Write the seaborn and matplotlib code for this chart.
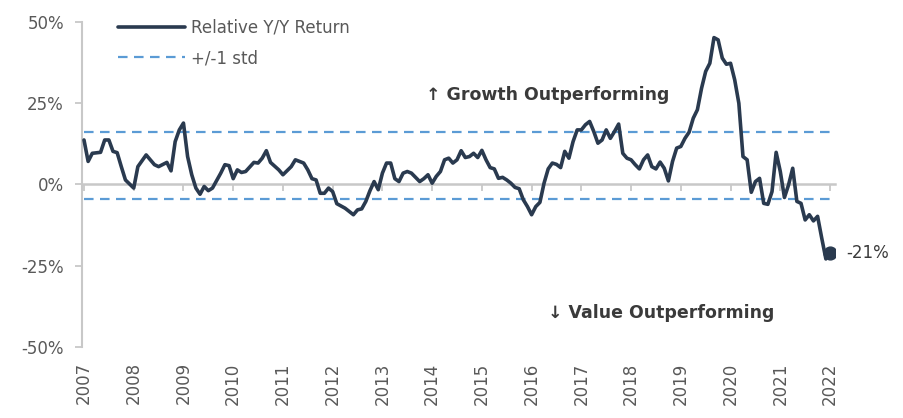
import matplotlib
matplotlib.use("Agg")
import matplotlib.pyplot as plt
import numpy as np
import pandas as pd
import seaborn as sns

# ---------------- data ----------------
dates = [
    "2007-01", "2007-02", "2007-03", "2007-05", "2007-06", "2007-07", "2007-08", "2007-09", "2007-10", "2007-11",
    "2008-01", "2008-02", "2008-04", "2008-06", "2008-07", "2008-09", "2008-10", "2008-11", "2008-12",
    "2009-01", "2009-02", "2009-03", "2009-04", "2009-05", "2009-06", "2009-07", "2009-08", "2009-10", "2009-11", "2009-12",
    "2010-01", "2010-02", "2010-03", "2010-04", "2010-06", "2010-07", "2010-08", "2010-09", "2010-10", "2010-12",
    "2011-01", "2011-03", "2011-04", "2011-06", "2011-07", "2011-08", "2011-09", "2011-10", "2011-11", "2011-12",
    "2012-01", "2012-02", "2012-04", "2012-05", "2012-06", "2012-07", "2012-08", "2012-09", "2012-10", "2012-11", "2012-12",
    "2013-01", "2013-02", "2013-03", "2013-04", "2013-05", "2013-06", "2013-07", "2013-08", "2013-10", "2013-11", "2013-12",
    "2014-01", "2014-02", "2014-03", "2014-04", "2014-05", "2014-06", "2014-07", "2014-08", "2014-09", "2014-10", "2014-11", "2014-12",
    "2015-01", "2015-02", "2015-03", "2015-04", "2015-05", "2015-06", "2015-07", "2015-08", "2015-09", "2015-10", "2015-11", "2015-12",
    "2016-01", "2016-02", "2016-03", "2016-04", "2016-05", "2016-06", "2016-07", "2016-08", "2016-09", "2016-10", "2016-11", "2016-12",
    "2017-01", "2017-02", "2017-03", "2017-04", "2017-05", "2017-06", "2017-07", "2017-08", "2017-09", "2017-10", "2017-11", "2017-12",
    "2018-01", "2018-02", "2018-03", "2018-04", "2018-05", "2018-06", "2018-07", "2018-08", "2018-09", "2018-10", "2018-11", "2018-12",
    "2019-01", "2019-02", "2019-03", "2019-04", "2019-05", "2019-06", "2019-07", "2019-08", "2019-09", "2019-10", "2019-11", "2019-12",
    "2020-01", "2020-02", "2020-03", "2020-04", "2020-05", "2020-06", "2020-07", "2020-08", "2020-09", "2020-10", "2020-11", "2020-12",
    "2021-01", "2021-02", "2021-03", "2021-04", "2021-05", "2021-06", "2021-07", "2021-08", "2021-09", "2021-10", "2021-11", "2021-12",
    "2022-01",
]
relative_return = [
    13.7, 7.1, 9.6, 9.9, 13.7, 13.7, 10.2, 9.8, 5.5, 1.4,
    -1.1, 5.5, 9.1, 6.1, 5.5, 6.8, 4.2, 13.2, 16.8,
    18.9, 8.6, 3.0, -1.1, -3.0, -0.6, -1.9, -1.1, 3.5, 6.1, 5.8,
    1.8, 4.5, 3.7, 4.0, 6.8, 6.6, 8.1, 10.4, 6.8, 4.5,
    3.0, 5.5, 7.6, 6.6, 4.5, 1.8, 1.4, -2.7, -2.7, -1.1,
    -2.2, -5.9, -7.3, -8.3, -9.3, -7.8, -7.5, -5.2, -1.9, 0.9, -1.6,
    3.5, 6.6, 6.6, 1.8, 0.9, 3.5, 4.0, 3.5, 0.9, 1.8, 3.0,
    0.4, 2.5, 4.0, 7.6, 8.1, 6.6, 7.6, 10.4, 8.3, 8.6, 9.6, 8.3,
    10.5, 7.6, 5.2, 4.8, 1.9, 2.2, 1.4, 0.4, -0.9, -1.3, -4.7, -6.8,
    -9.3, -6.8, -5.5, 0.4, 4.8, 6.6, 6.2, 5.2, 10.2, 8.1, 13.2, 16.8,
    16.8, 18.4, 19.4, 16.3, 12.7, 13.7, 16.8, 14.2, 16.3, 18.6, 9.6, 8.1,
    7.6, 6.1, 4.8, 7.6, 9.1, 5.5, 4.8, 6.9, 5.0, 1.1, 7.1, 11.2,
    11.7, 14.2, 16.1, 20.4, 23.0, 29.6, 34.8, 37.3, 45.2, 44.5, 38.9, 37.0,
    37.3, 32.2, 25.0, 8.6, 7.6, -2.4, 0.9, 1.9, -5.8, -6.1, -2.2, 9.9,
    4.0, -4.0, -0.1, 5.0, -5.2, -5.8, -10.9, -9.3, -11.2, -9.8, -16.5, -22.9,
    -21.0,
]
upper_std = 16.2
lower_std = -4.6
year_ticks = list(range(2007, 2023))
y_ticks = [-50, -25, 0, 25, 50]
y_tick_labels = ["-50%", "-25%", "0%", "25%", "50%"]
series_label = "Relative Y/Y Return"
std_label = "+/-1 std"
growth_text = "\u2191 Growth Outperforming"
value_text = "\u2193 Value Outperforming"
last_label = "-21%"

# ---------------- styling ----------------
LINE_COLOR = "#2a3a4f"
STD_COLOR = "#5b9bd5"
AXIS_COLOR = "#c8c8c8"
TEXT_COLOR = "#595959"
ANNOT_COLOR = "#3a3a3a"

sns.set_style("white")
plt.rcParams["font.family"] = ["DejaVu Sans"]

df = pd.DataFrame({"date": pd.to_datetime(dates), "value": relative_return})
df["t"] = df["date"].dt.year + (df["date"].dt.month - 1) / 12.0

W, H = 904, 418
fig = plt.figure(figsize=(W / 100, H / 100), dpi=100)
ax = fig.add_axes([82 / W, 1 - 347 / H, (835 - 82) / W, (347 - 22) / H])

# std bands
std_df = pd.DataFrame({
    "t": [year_ticks[0], year_ticks[-1], year_ticks[0], year_ticks[-1]],
    "value": [upper_std, upper_std, lower_std, lower_std],
    "band": ["u", "u", "l", "l"],
})
for i, (b, g) in enumerate(std_df.groupby("band")):
    ax.plot(g["t"], g["value"], color=STD_COLOR, lw=1.6, dashes=(4.3, 2.9),
            label=std_label if i == 0 else None, zorder=2)

sns.lineplot(data=df, x="t", y="value", ax=ax, color=LINE_COLOR, lw=2.6,
             label=series_label, zorder=3)

# last point marker + label
last = df.iloc[-1]
ax.scatter([last["t"]], [last["value"]], s=85, color=LINE_COLOR, zorder=4)
ax.annotate(last_label, (last["t"], last["value"]), xytext=(12, 0),
            textcoords="offset points", va="center", ha="left",
            fontsize=12, color=ANNOT_COLOR, annotation_clip=False)

# axes limits
ax.set_xlim(year_ticks[0] - 0.04, year_ticks[-1] + 0.1)
ax.set_ylim(y_ticks[0], y_ticks[-1])

# y axis
ax.set_yticks(y_ticks)
ax.set_yticklabels(y_tick_labels)
ax.tick_params(axis="y", direction="out", length=5, width=1.3, color=AXIS_COLOR,
               labelsize=12, labelcolor=TEXT_COLOR, pad=8, left=True)
ax.spines["left"].set_color(AXIS_COLOR)
ax.spines["left"].set_linewidth(1.5)
ax.spines["top"].set_visible(False)
ax.spines["right"].set_visible(False)

# x axis line on zero with ticks
ax.spines["bottom"].set_position(("data", 0))
ax.spines["bottom"].set_color(AXIS_COLOR)
ax.spines["bottom"].set_linewidth(1.8)
ax.set_xticks(year_ticks)
ax.tick_params(axis="x", direction="out", length=5, width=1.3, color=AXIS_COLOR,
               labelbottom=False, bottom=True)
ax.set_xlabel("")
ax.set_ylabel("")

# year labels at the bottom
sec = ax.secondary_xaxis(0)
sec.set_xticks(year_ticks)
sec.set_xticklabels([str(y) for y in year_ticks], rotation=90)
sec.tick_params(length=0, pad=11, labelsize=12, labelcolor=TEXT_COLOR)
sec.spines["bottom"].set_visible(False)

# text annotations
ax.text(0.619, 0.775, growth_text, transform=ax.transAxes, ha="center", va="center",
        fontsize=12.5, fontweight="bold", color=ANNOT_COLOR)
ax.text(0.769, 0.105, value_text, transform=ax.transAxes, ha="center", va="center",
        fontsize=12.5, fontweight="bold", color=ANNOT_COLOR)

# legend
handles, labels = ax.get_legend_handles_labels()
order = [labels.index(series_label), labels.index(std_label)]
leg = ax.legend([handles[i] for i in order], [labels[i] for i in order],
                loc="upper left", bbox_to_anchor=(0.048, 1.01), frameon=False,
                borderaxespad=0, borderpad=0, handlelength=4.0, handletextpad=0.4,
                labelspacing=0.75, fontsize=12, labelcolor=TEXT_COLOR)

fig.savefig("out.png", dpi=100)
